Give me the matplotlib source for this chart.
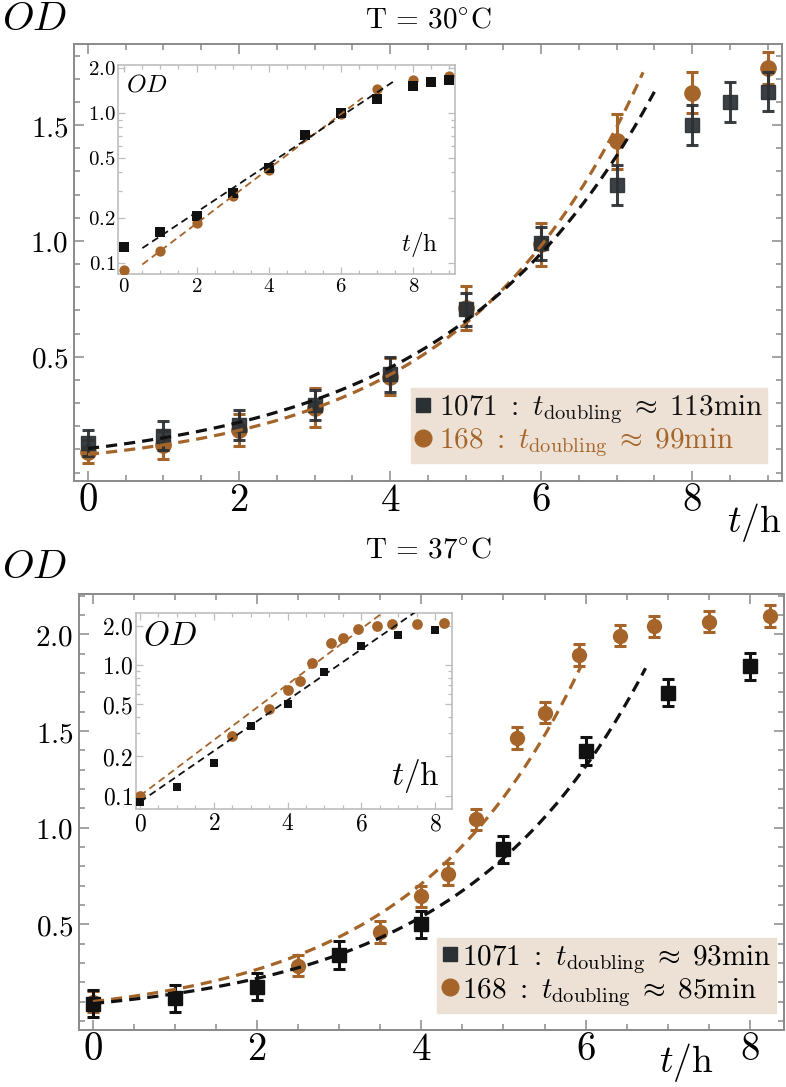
import numpy as np
import matplotlib
matplotlib.use('Agg')
import matplotlib.pyplot as plt
from matplotlib.lines import Line2D
from matplotlib.ticker import FixedLocator, MultipleLocator, NullFormatter

plt.rcParams['mathtext.fontset'] = 'cm'
plt.rcParams['font.family'] = ['DejaVu Serif']

# ---------------- data ----------------
# T = 30 C
t30_1071 = [0, 1, 2, 3, 4, 5, 6, 7, 8, 8.5, 9]
od30_1071 = [0.128, 0.16, 0.205, 0.293, 0.425, 0.705, 0.99, 1.24, 1.50, 1.60, 1.645]
err30_1071 = [0.058, 0.062, 0.065, 0.065, 0.075, 0.072, 0.072, 0.086, 0.086, 0.086, 0.086]
t30_168 = [0, 1, 2, 3, 4, 5, 6, 7, 8, 9]
od30_168 = [0.09, 0.12, 0.183, 0.28, 0.415, 0.71, 0.985, 1.43, 1.64, 1.745]
err30_168 = [0.05, 0.06, 0.07, 0.085, 0.08, 0.094, 0.093, 0.12, 0.089, 0.069]

# T = 37 C
t37_1071 = [0, 1, 2, 3, 4, 5, 6, 7, 8]
od37_1071 = [0.09, 0.117, 0.177, 0.341, 0.50, 0.888, 1.398, 1.698, 1.836]
err37_1071 = [0.072, 0.07, 0.07, 0.07, 0.07, 0.07, 0.073, 0.07, 0.07]
t37_168 = [0, 2.5, 3.5, 4, 4.33, 4.67, 5.17, 5.5, 5.92, 6.42, 6.83, 7.5, 8.25]
od37_168 = [0.10, 0.285, 0.46, 0.645, 0.76, 1.043, 1.462, 1.595, 1.893, 1.993, 2.043, 2.065, 2.095]
err37_168 = [0.055, 0.055, 0.055, 0.055, 0.055, 0.055, 0.057, 0.055, 0.055, 0.055, 0.054, 0.055, 0.055]

# exponential fits: doubling time (min) and amplitude
dbl30 = {'1071': 113, '168': 99}
amp30 = {'1071': 0.104, '168': 0.0788}
dbl37 = {'1071': 93, '168': 85}
amp37 = {'1071': 0.090, '168': 0.1002}
# fit ranges (h): main plot / inset
rng30_main = {'1071': (0, 7.5), '168': (0, 7.35)}
rng30_inset = {'1071': (0.5, 7.5), '168': (0.5, 6.6)}
rng37_main = {'1071': (0, 6.73), '168': (0, 5.95)}
rng37_inset = {'1071': (0, 8.4), '168': (0, 8.4)}

# ticks
main_xticks = [0, 2, 4, 6, 8]
main_xticklabels = ['0', '2', '4', '6', '8']
top_yticks = [0.5, 1.0, 1.5]
top_yticklabels = ['0.5', '1.0', '1.5']
bot_yticks = [0.5, 1.0, 1.5, 2.0]
bot_yticklabels = ['0.5', '1.0', '1.5', '2.0']
inset_yticks = [0.1, 0.2, 0.5, 1.0, 2.0]
inset_yticklabels = ['0.1', '0.2', '0.5', '1.0', '2.0']

BROWN = '#a5652a'
DARK = '#2b3035'
BLACK = '#111111'
LEGBG = '#ede1d5'
SPINE = '#8a8a8a'
INSPINE = '#bdbdbd'

W, H = 786, 1087
fig = plt.figure(figsize=(W / 100, H / 100), dpi=100)


def px_axes(x0, y0, x1, y1):
    return fig.add_axes([x0 / W, 1 - y1 / H, (x1 - x0) / W, (y1 - y0) / H])


def fit_curve(ax, amp, dbl, rng, color, lw, dashes, z):
    tt = np.linspace(rng[0], rng[1], 200)
    rate = np.log(2) / (dbl / 60.0)
    ax.plot(tt, amp * np.exp(rate * tt), color=color, lw=lw, dashes=dashes,
            zorder=z, solid_capstyle='butt', dash_capstyle='butt')


def style_main(ax, xlim, ylim, yticks, ylabels):
    ax.set_xlim(*xlim)
    ax.set_ylim(*ylim)
    ax.set_xticks(main_xticks, [r'$%s$' % s for s in main_xticklabels])
    ax.set_yticks(yticks, [r'$%s$' % s for s in ylabels])
    ax.xaxis.set_minor_locator(MultipleLocator(0.5))
    ax.yaxis.set_minor_locator(MultipleLocator(0.1))
    for sp in ax.spines.values():
        sp.set_color(SPINE)
        sp.set_linewidth(1.4)
    ax.tick_params(which='both', direction='in', top=True, right=True, color=SPINE, width=1.1)
    ax.tick_params(which='major', length=7)
    ax.tick_params(which='minor', length=4)
    ax.tick_params(axis='x', labelsize=28, pad=1)
    ax.tick_params(axis='y', labelsize=21, pad=4)


def style_inset(ax, xlim, ylim, labelsize):
    ax.set_yscale('log')
    ax.set_xlim(*xlim)
    ax.set_ylim(*ylim)
    ax.set_xticks(main_xticks, [r'$%s$' % s for s in main_xticklabels])
    ax.yaxis.set_major_locator(FixedLocator(inset_yticks))
    ax.set_yticklabels([r'$%s$' % s for s in inset_yticklabels])
    minors = [v * d for d in (0.1, 1.0) for v in range(1, 10)] + [2.0]
    ax.yaxis.set_minor_locator(FixedLocator(minors))
    ax.yaxis.set_minor_formatter(NullFormatter())
    ax.xaxis.set_minor_locator(MultipleLocator(0.5))
    for sp in ax.spines.values():
        sp.set_color(INSPINE)
        sp.set_linewidth(1.2)
    ax.tick_params(which='both', direction='in', top=True, right=True, color=INSPINE, width=0.9)
    ax.tick_params(which='major', length=5)
    ax.tick_params(which='minor', length=3)
    ax.tick_params(axis='both', labelsize=labelsize, pad=2)


# ================= T = 30 C =================
ax1 = px_axes(74, 44, 782, 481)
ax1.errorbar(t30_168, od30_168, yerr=err30_168, fmt='o', ms=11, color=BROWN,
             ecolor=BROWN, elinewidth=2.2, capsize=4.5, capthick=2.2, zorder=3)
ax1.errorbar(t30_1071, od30_1071, yerr=err30_1071, fmt='s', ms=10, color=DARK,
             ecolor=DARK, elinewidth=2.2, capsize=4.5, capthick=2.2, alpha=0.92, zorder=4)
fit_curve(ax1, amp30['168'], dbl30['168'], rng30_main['168'], BROWN, 2.3, (3.5, 2.2), 5)
fit_curve(ax1, amp30['1071'], dbl30['1071'], rng30_main['1071'], BLACK, 2.3, (3.5, 2.2), 6)
style_main(ax1, (-0.185, 9.19), (-0.036, 1.85), top_yticks, top_yticklabels)

h1 = [Line2D([], [], marker='s', ls='none', color=DARK, ms=10),
      Line2D([], [], marker='o', ls='none', color=BROWN, ms=12)]
lab1 = [r'$1071\ :\ t_{\mathrm{doubling}}\;\approx\;113\mathrm{min}$',
        r'$168\ :\ t_{\mathrm{doubling}}\;\approx\;99\mathrm{min}$']
leg1 = ax1.legend(h1, lab1, loc='lower right', bbox_to_anchor=(0.979, 0.041),
                  borderaxespad=0, fontsize=21, frameon=True, fancybox=False,
                  facecolor=LEGBG, edgecolor=LEGBG, framealpha=1,
                  handlelength=0.55, handletextpad=0.25, labelspacing=0.0,
                  borderpad=0.15, labelcolor=[BLACK, BROWN])
leg1.set_zorder(10)

ins1 = px_axes(118.3, 65, 455, 274)
ins1.scatter(t30_168, od30_168, marker='o', s=55, color=BROWN, zorder=3, lw=0)
ins1.scatter(t30_1071, od30_1071, marker='s', s=42, color=BLACK, zorder=4, lw=0)
fit_curve(ins1, amp30['168'], dbl30['168'], rng30_inset['168'], BROWN, 1.3, (4, 2.5), 5)
fit_curve(ins1, amp30['1071'], dbl30['1071'], rng30_inset['1071'], BLACK, 1.3, (4, 2.5), 6)
style_inset(ins1, (-0.166, 9.154), (0.084, 2.08), 15)
ins1.text(0.023, 0.905, r'$OD$', transform=ins1.transAxes, fontsize=18, ha='left', va='center')
ins1.text(0.95, 0.14, r'$t/\mathrm{h}$', transform=ins1.transAxes, fontsize=18, ha='right', va='center')

fig.text(428 / W, 1 - 19 / H, r'$\mathrm{T}\,=\,30^{\circ}\mathrm{C}$', fontsize=21, ha='center', va='center')
fig.text(2 / W, 1 - 19 / H, r'$OD$', fontsize=29, ha='left', va='center')
fig.text(781 / W, 1 - 522 / H, r'$t/\mathrm{h}$', fontsize=27, ha='right', va='center')

# ================= T = 37 C =================
ax2 = px_axes(79, 594, 784.3, 1030)
ax2.errorbar(t37_168, od37_168, yerr=err37_168, fmt='o', ms=10, color=BROWN,
             ecolor=BROWN, elinewidth=2.2, capsize=4.5, capthick=2.2, zorder=3)
ax2.errorbar(t37_1071, od37_1071, yerr=err37_1071, fmt='s', ms=10, color=BLACK,
             ecolor=BLACK, elinewidth=2.2, capsize=4.5, capthick=2.2, zorder=4)
fit_curve(ax2, amp37['168'], dbl37['168'], rng37_main['168'], BROWN, 2.3, (3.5, 2.2), 5)
fit_curve(ax2, amp37['1071'], dbl37['1071'], rng37_main['1071'], BLACK, 2.3, (3.5, 2.2), 6)
style_main(ax2, (-0.17, 8.42), (-0.047, 2.209), bot_yticks, bot_yticklabels)

h2 = [Line2D([], [], marker='s', ls='none', color=DARK, ms=10),
      Line2D([], [], marker='o', ls='none', color=BROWN, ms=12)]
lab2 = [r'$1071\ :\ t_{\mathrm{doubling}}\;\approx\;93\mathrm{min}$',
        r'$168\ :\ t_{\mathrm{doubling}}\;\approx\;85\mathrm{min}$']
leg2 = ax2.legend(h2, lab2, loc='lower right', bbox_to_anchor=(0.988, 0.039),
                  borderaxespad=0, fontsize=21, frameon=True, fancybox=False,
                  facecolor=LEGBG, edgecolor=LEGBG, framealpha=1,
                  handlelength=0.55, handletextpad=0.15, labelspacing=0.0,
                  borderpad=0.15)
leg2.set_zorder(10)

ins2 = px_axes(136, 613.3, 451.7, 809.3)
ins2.scatter(t37_168, od37_168, marker='o', s=60, color=BROWN, zorder=3, lw=0)
ins2.scatter(t37_1071, od37_1071, marker='s', s=40, color=BLACK, zorder=4, lw=0)
fit_curve(ins2, amp37['168'], dbl37['168'], rng37_inset['168'], BROWN, 1.3, (4, 2.5), 5)
fit_curve(ins2, amp37['1071'], dbl37['1071'], rng37_inset['1071'], BLACK, 1.3, (4, 2.5), 6)
style_inset(ins2, (-0.108, 8.45), (0.079, 2.48), 17)
ins2.text(0.022, 0.884, r'$OD$', transform=ins2.transAxes, fontsize=24, ha='left', va='center')
ins2.text(0.963, 0.17, r'$t/\mathrm{h}$', transform=ins2.transAxes, fontsize=24, ha='right', va='center')

fig.text(428 / W, 1 - 549 / H, r'$\mathrm{T}\,=\,37^{\circ}\mathrm{C}$', fontsize=21, ha='center', va='center')
fig.text(2 / W, 1 - 567 / H, r'$OD$', fontsize=29, ha='left', va='center')
fig.text(713 / W, 1 - 1062 / H, r'$t/\mathrm{h}$', fontsize=27, ha='right', va='center')

fig.savefig('out.png', dpi=100)
